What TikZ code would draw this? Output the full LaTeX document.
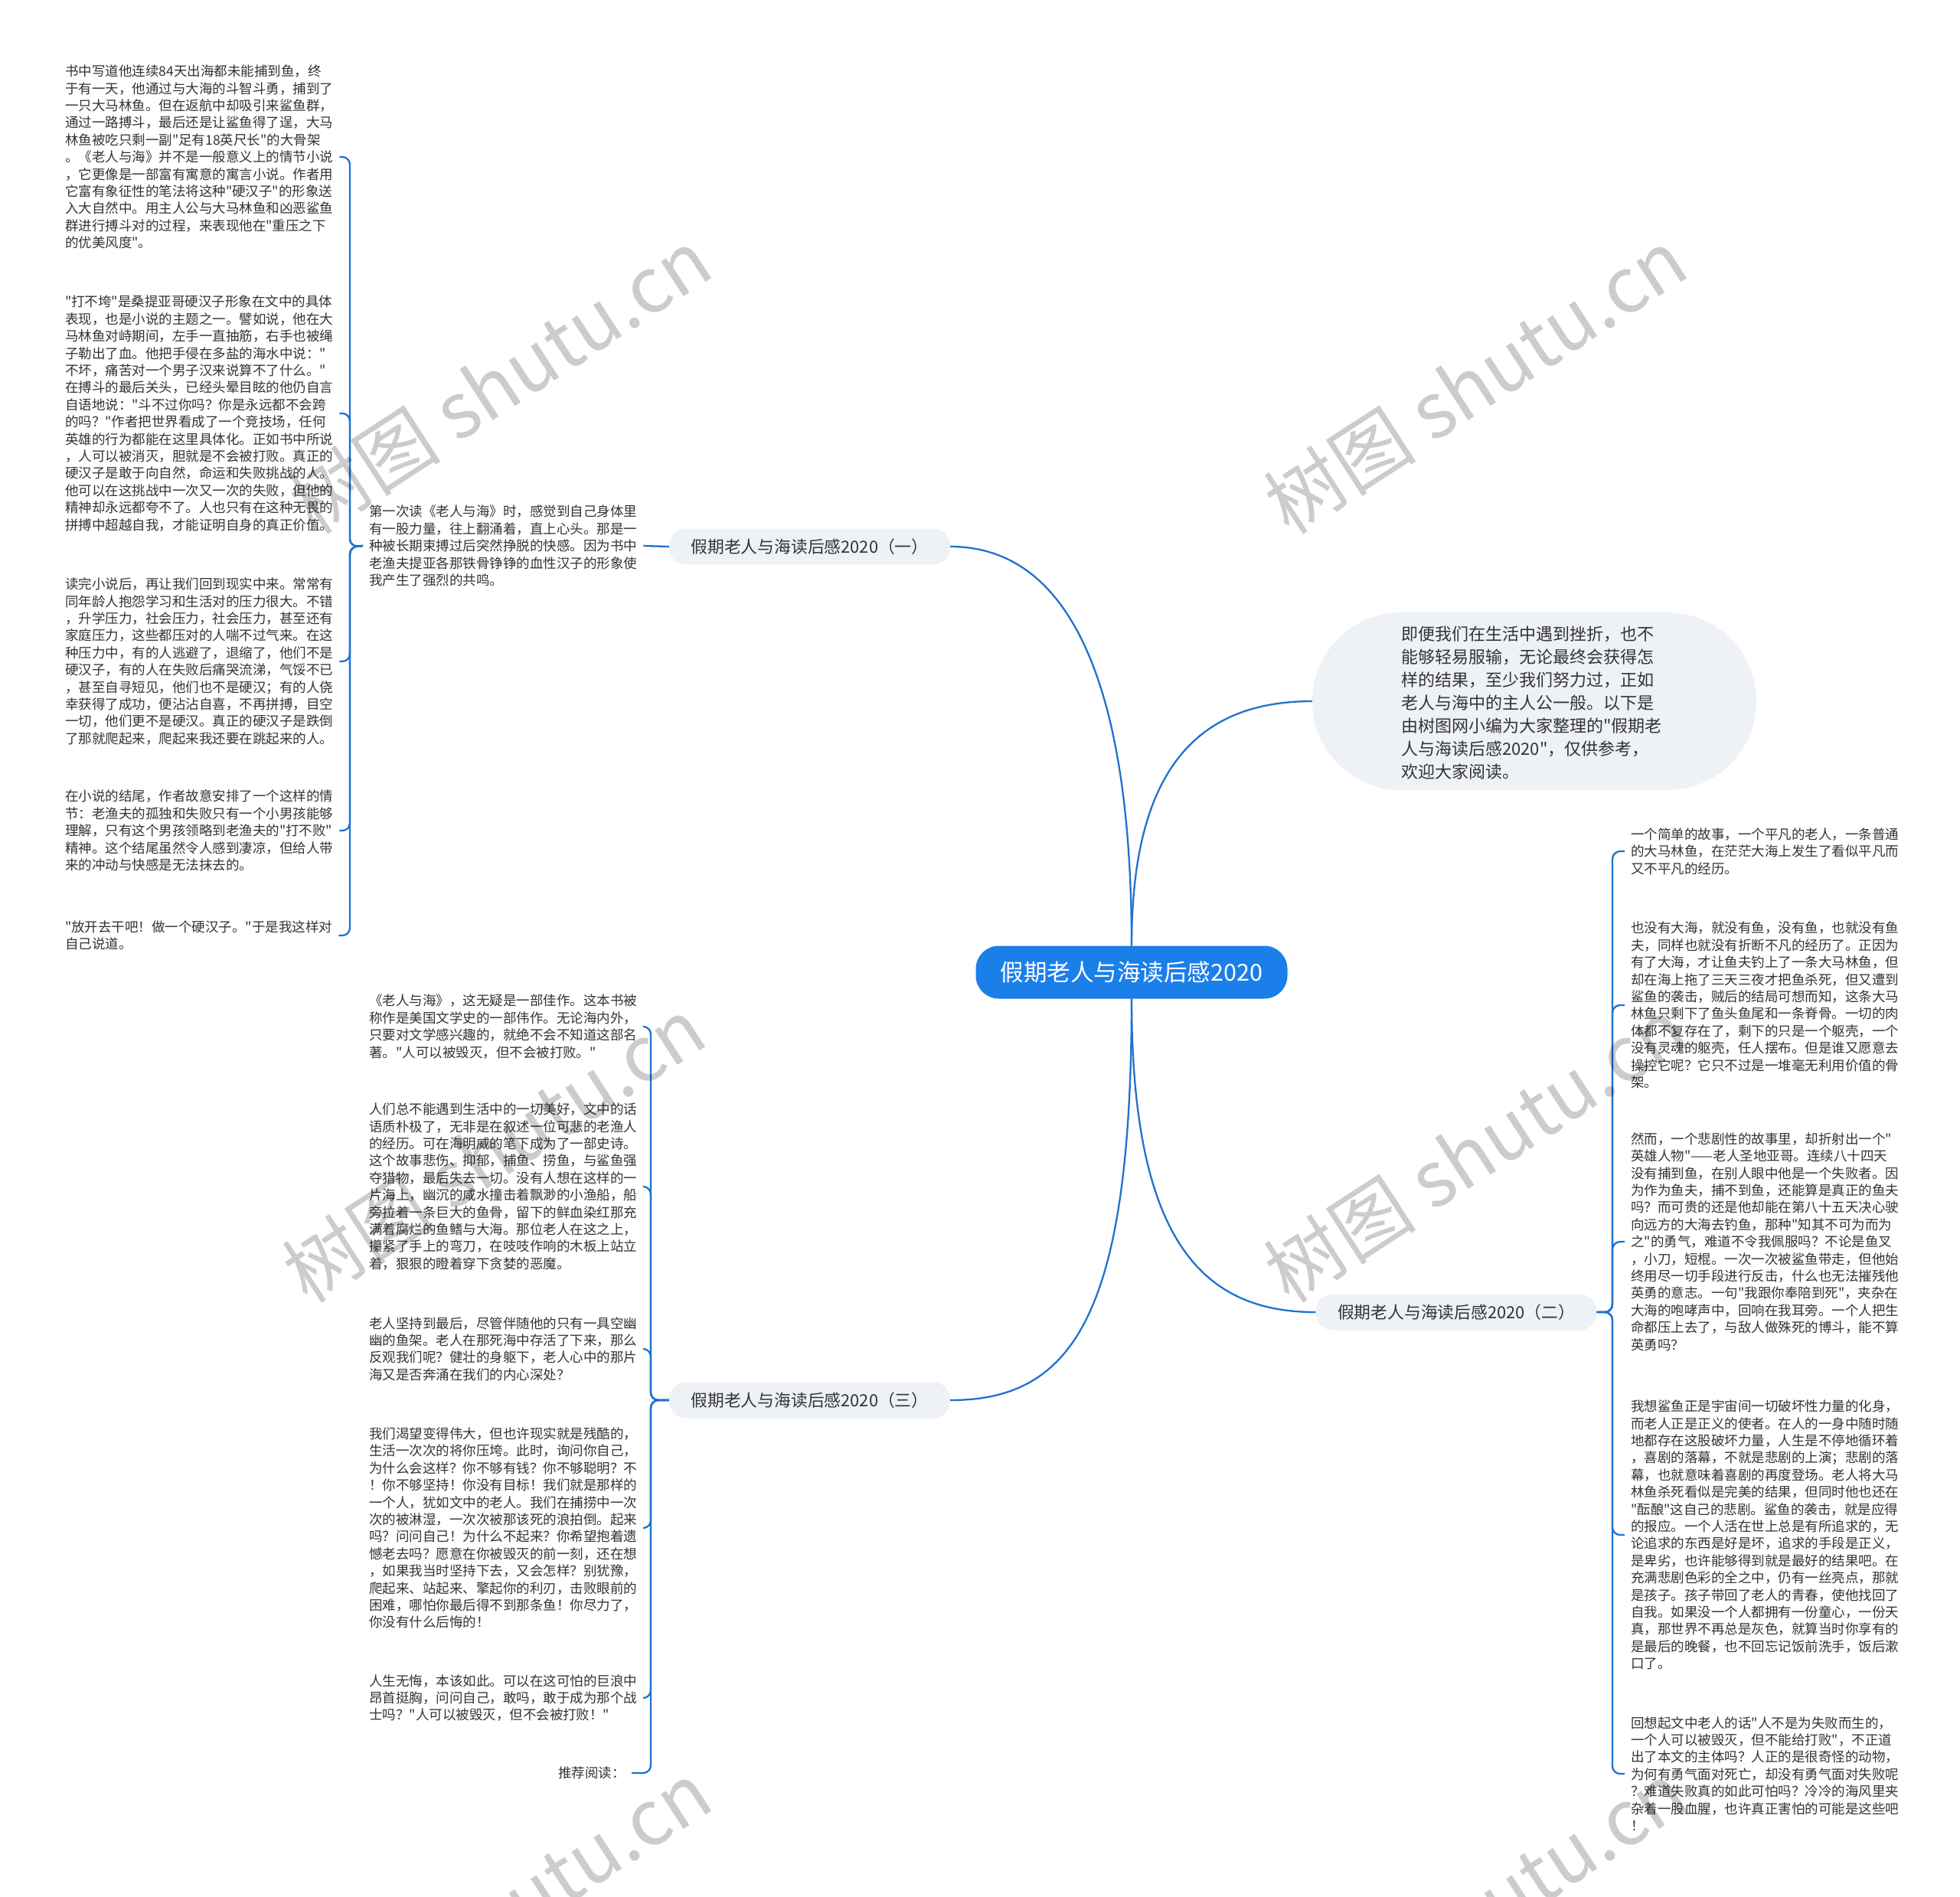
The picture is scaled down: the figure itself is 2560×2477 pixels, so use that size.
\documentclass[tikz,border=0pt]{standalone}
\usepackage{fontspec}
\setmainfont{Noto Sans CJK SC}[Ligatures=TeXOff]
\definecolor{lineblue}{HTML}{1F72D0}
\definecolor{rootblue}{HTML}{1B7FEA}
\definecolor{nodegray}{HTML}{EEF1F5}
\definecolor{txt}{HTML}{333333}
\tikzset{
  para/.style={anchor=west, align=left, inner xsep=8pt, inner ysep=0pt, text=txt,
    font=\fontsize{17.5}{22.4}\selectfont},
  conn/.style={draw=lineblue, line width=2.3pt},
  brk/.style={draw=lineblue, line width=2.3pt, rounded corners=10pt},
  branch/.style={fill=nodegray, rounded corners=22pt, minimum width=367pt,
    minimum height=47pt, inner sep=0pt, text=txt, font=\fontsize{21.8}{26}\selectfont},
  wm/.style={text=black, text opacity=0.2, rotate=33,
    font=\fontsize{100}{100}\selectfont},
}
\begin{document}
\begin{tikzpicture}[x=1pt,y=-1pt]
\useasboundingbox (0,0) rectangle (2560,2477);
\fill[white] (0,0) rectangle (2560,2477);

% root
\node[fill=rootblue, rounded corners=30pt, minimum width=407pt, minimum height=69pt,
  inner sep=0pt, text=white, font=\fontsize{30.5}{34}\selectfont] (root) at (1478,1270)
  {假期老人与海读后感2020};

% intro
\node[fill=nodegray, rounded corners=116pt, minimum width=580pt, minimum height=232pt,
  inner sep=0pt] (intro) at (2004,916) {};
\node[anchor=west, align=left, inner sep=0pt, text=txt,
  font=\fontsize{22}{30}\selectfont] (introtext) at (1830,918)
{即便我们在生活中遇到挫折，也不\\
能够轻易服输，无论最终会获得怎\\
样的结果，至少我们努力过，正如\\
老人与海中的主人公一般。以下是\\
由树图网小编为大家整理的"假期老\\
人与海读后感2020"，仅供参考，\\
欢迎大家阅读。};

% branches
\node[branch] (b1) at (1057.5,714) {假期老人与海读后感2020（一）};
\node[branch] (b2) at (1902,1714) {假期老人与海读后感2020（二）};
\node[branch] (b3) at (1057.5,1829) {假期老人与海读后感2020（三）};

\draw[conn] (root.north) .. controls (1478,900) and (1400,714) .. (b1.east);
\draw[conn] (root.north) .. controls (1478,1010) and (1560,916) .. (intro.west);
\draw[conn] (root.south) .. controls (1478,1620) and (1570,1714) .. (b2.west);
\draw[conn] (root.south) .. controls (1478,1720) and (1400,1829) .. (b3.east);

% ---------- branch 1 ----------
\node[para] (m1) at (474,713)
{第一次读《老人与海》时，感觉到自己身体里\\
有一股力量，往上翻涌着，直上心头。那是一\\
种被长期束搏过后突然挣脱的快感。因为书中\\
老渔夫提亚各那铁骨铮铮的血性汉子的形象使\\
我产生了强烈的共鸣。};

\node[para] (l1) at (77,205)
{书中写道他连续84天出海都未能捕到鱼，终\\
于有一天，他通过与大海的斗智斗勇，捕到了\\
一只大马林鱼。但在返航中却吸引来鲨鱼群，\\
通过一路搏斗，最后还是让鲨鱼得了逞，大马\\
林鱼被吃只剩一副"足有18英尺长"的大骨架\\
。《老人与海》并不是一般意义上的情节小说\\
，它更像是一部富有寓意的寓言小说。作者用\\
它富有象征性的笔法将这种"硬汉子"的形象送\\
入大自然中。用主人公与大马林鱼和凶恶鲨鱼\\
群进行搏斗对的过程，来表现他在"重压之下\\
的优美风度"。};

\node[para] (l2) at (77,540)
{"打不垮"是桑提亚哥硬汉子形象在文中的具体\\
表现，也是小说的主题之一。譬如说，他在大\\
马林鱼对峙期间，左手一直抽筋，右手也被绳\\
子勒出了血。他把手侵在多盐的海水中说："\\
不坏，痛苦对一个男子汉来说算不了什么。"\\
在搏斗的最后关头，已经头晕目眩的他仍自言\\
自语地说："斗不过你吗？你是永远都不会跨\\
的吗？"作者把世界看成了一个竞技场，任何\\
英雄的行为都能在这里具体化。正如书中所说\\
，人可以被消灭，胆就是不会被打败。真正的\\
硬汉子是敢于向自然，命运和失败挑战的人。\\
他可以在这挑战中一次又一次的失败，但他的\\
精神却永远都夸不了。人也只有在这种无畏的\\
拼搏中超越自我，才能证明自身的真正价值。};

\node[para] (l3) at (77,864)
{读完小说后，再让我们回到现实中来。常常有\\
同年龄人抱怨学习和生活对的压力很大。不错\\
，升学压力，社会压力，社会压力，甚至还有\\
家庭压力，这些都压对的人喘不过气来。在这\\
种压力中，有的人逃避了，退缩了，他们不是\\
硬汉子，有的人在失败后痛哭流涕，气馁不已\\
，甚至自寻短见，他们也不是硬汉；有的人侥\\
幸获得了成功，便沾沾自喜，不再拼搏，目空\\
一切，他们更不是硬汉。真正的硬汉子是跌倒\\
了那就爬起来，爬起来我还要在跳起来的人。};

\node[para] (l4) at (77,1085)
{在小说的结尾，作者故意安排了一个这样的情\\
节：老渔夫的孤独和失败只有一个小男孩能够\\
理解，只有这个男孩领略到老渔夫的"打不败"\\
精神。这个结尾虽然令人感到凄凉，但给人带\\
来的冲动与快感是无法抹去的。};

\node[para] (l5) at (77,1222)
{"放开去干吧！做一个硬汉子。"于是我这样对\\
自己说道。};

\draw[conn] (b1.west) -- (m1.east);
\coordinate (j1) at (457,714);
\foreach \c in {l1,l2,l3,l4,l5}
  \draw[brk] (m1.west) -- (j1) |- (\c.east);

% ---------- branch 2 ----------
\node[para] (r1) at (2122,1112)
{一个简单的故事，一个平凡的老人，一条普通\\
的大马林鱼，在茫茫大海上发生了看似平凡而\\
又不平凡的经历。};

\node[para] (r2) at (2122,1313)
{也没有大海，就没有鱼，没有鱼，也就没有鱼\\
夫，同样也就没有折断不凡的经历了。正因为\\
有了大海，才让鱼夫钓上了一条大马林鱼，但\\
却在海上拖了三天三夜才把鱼杀死，但又遭到\\
鲨鱼的袭击，贼后的结局可想而知，这条大马\\
林鱼只剩下了鱼头鱼尾和一条脊骨。一切的肉\\
体都不复存在了，剩下的只是一个躯壳，一个\\
没有灵魂的躯壳，任人摆布。但是谁又愿意去\\
操控它呢？它只不过是一堆毫无利用价值的骨\\
架。};

\node[para] (r3) at (2122,1622)
{然而，一个悲剧性的故事里，却折射出一个"\\
英雄人物"——老人圣地亚哥。连续八十四天\\
没有捕到鱼，在别人眼中他是一个失败者。因\\
为作为鱼夫，捕不到鱼，还能算是真正的鱼夫\\
吗？而可贵的还是他却能在第八十五天决心驶\\
向远方的大海去钓鱼，那种"知其不可为而为\\
之"的勇气，难道不令我佩服吗？不论是鱼叉\\
，小刀，短棍。一次一次被鲨鱼带走，但他始\\
终用尽一切手段进行反击，什么也无法摧残他\\
英勇的意志。一句"我跟你奉陪到死"，夹杂在\\
大海的咆哮声中，回响在我耳旁。一个人把生\\
命都压上去了，与敌人做殊死的博斗，能不算\\
英勇吗？};

\node[para] (r4) at (2122,2005)
{我想鲨鱼正是宇宙间一切破坏性力量的化身，\\
而老人正是正义的使者。在人的一身中随时随\\
地都存在这股破坏力量，人生是不停地循环着\\
，喜剧的落幕，不就是悲剧的上演；悲剧的落\\
幕，也就意味着喜剧的再度登场。老人将大马\\
林鱼杀死看似是完美的结果，但同时他也还在\\
"酝酿"这自己的悲剧。鲨鱼的袭击，就是应得\\
的报应。一个人活在世上总是有所追求的，无\\
论追求的东西是好是坏，追求的手段是正义，\\
是卑劣，也许能够得到就是最好的结果吧。在\\
充满悲剧色彩的全之中，仍有一丝亮点，那就\\
是孩子。孩子带回了老人的青春，使他找回了\\
自我。如果没一个人都拥有一份童心，一份天\\
真，那世界不再总是灰色，就算当时你享有的\\
是最后的晚餐，也不回忘记饭前洗手，饭后漱\\
口了。};

\node[para] (r5) at (2122,2317)
{回想起文中老人的话"人不是为失败而生的，\\
一个人可以被毁灭，但不能给打败"，不正道\\
出了本文的主体吗？人正的是很奇怪的动物，\\
为何有勇气面对死亡，却没有勇气面对失败呢\\
？难道失败真的如此可怕吗？冷冷的海风里夹\\
杂着一股血腥，也许真正害怕的可能是这些吧\\
！};

\coordinate (j2) at (2106,1714);
\foreach \c in {r1,r2,r3,r4,r5}
  \draw[brk] (b2.east) -- (j2) |- (\c.west);

% ---------- branch 3 ----------
\node[para] (s1) at (474,1341)
{《老人与海》，这无疑是一部佳作。这本书被\\
称作是美国文学史的一部伟作。无论海内外，\\
只要对文学感兴趣的，就绝不会不知道这部名\\
著。"人可以被毁灭，但不会被打败。"};

\node[para] (s2) at (474,1550)
{人们总不能遇到生活中的一切美好，文中的话\\
语质朴极了，无非是在叙述一位可悲的老渔人\\
的经历。可在海明威的笔下成为了一部史诗。\\
这个故事悲伤、抑郁，捕鱼、捞鱼，与鲨鱼强\\
夺猎物，最后失去一切。没有人想在这样的一\\
片海上，幽沉的咸水撞击着飘渺的小渔船，船\\
旁拉着一条巨大的鱼骨，留下的鲜血染红那充\\
满着腐烂的鱼鳍与大海。那位老人在这之上，\\
攥紧了手上的弯刀，在吱吱作响的木板上站立\\
着，狠狠的瞪着穿下贪婪的恶魔。};

\node[para] (s3) at (474,1762)
{老人坚持到最后，尽管伴随他的只有一具空幽\\
幽的鱼架。老人在那死海中存活了下来，那么\\
反观我们呢？健壮的身躯下，老人心中的那片\\
海又是否奔涌在我们的内心深处？};

\node[para] (s4) at (474,1996)
{我们渴望变得伟大，但也许现实就是残酷的，\\
生活一次次的将你压垮。此时，询问你自己，\\
为什么会这样？你不够有钱？你不够聪明？不\\
！你不够坚持！你没有目标！我们就是那样的\\
一个人，犹如文中的老人。我们在捕捞中一次\\
次的被淋湿，一次次被那该死的浪拍倒。起来\\
吗？问问自己！为什么不起来？你希望抱着遗\\
憾老去吗？愿意在你被毁灭的前一刻，还在想\\
，如果我当时坚持下去，又会怎样？别犹豫，\\
爬起来、站起来、擎起你的利刃，击败眼前的\\
困难，哪怕你最后得不到那条鱼！你尽力了，\\
你没有什么后悔的！};

\node[para] (s5) at (474,2218)
{人生无悔，本该如此。可以在这可怕的巨浪中\\
昂首挺胸，问问自己，敢吗，敢于成为那个战\\
士吗？"人可以被毁灭，但不会被打败！"};

\node[para, anchor=east] (s6) at (825,2316) {推荐阅读：};

\coordinate (j3) at (850,1829);
\foreach \c in {s1,s2,s3,s4,s5,s6}
  \draw[brk] (b3.west) -- (j3) |- (\c.east);

% ---------- watermarks ----------
\node[wm] (w1) at (653,498) {树图 shutu.cn};
\node[wm] (w2) at (1927,498) {树图 shutu.cn};
\node[wm] (w3) at (645,1502) {树图 shutu.cn};
\node[wm] (w4) at (1927,1502) {树图 shutu.cn};
\node[wm] (w5) at (653,2500) {树图 shutu.cn};
\node[wm] (w6) at (1927,2500) {树图 shutu.cn};
\end{tikzpicture}
\end{document}
